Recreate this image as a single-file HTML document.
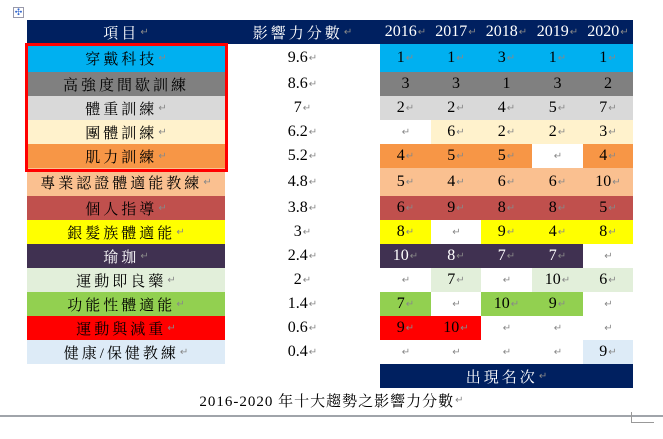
<!DOCTYPE html>
<html><head><meta charset="utf-8">
<style>
body{margin:0;width:663px;height:439px;background:#fff;position:relative;overflow:hidden;font-family:"Liberation Serif","Noto Serif CJK SC",serif;}
.c{position:absolute;display:flex;align-items:center;justify-content:center;font-size:16px;color:#000;box-sizing:border-box;}
.k{letter-spacing:3px;font-size:15px;}
.m{color:#888;font-size:10px;margin-left:1px;letter-spacing:0;}
</style></head><body>
<div style="position:absolute;left:13px;top:7px;width:9px;height:9px;border:1px solid #99a;color:#36c;font-size:9px;line-height:9px;text-align:center;">✣</div>
<div id="t"></div>
<div style="position:absolute;left:25px;top:43px;width:203px;height:129px;border:3px solid #f00;box-sizing:border-box;"></div>
<div class="c k" style="left:0;top:390px;width:663px;height:20px;letter-spacing:1px;">2016-2020 年十大趨勢之影響力分數<span class="m">↵</span></div>
<div style="position:absolute;left:0;top:415px;width:663px;height:2px;background:#a0a4aa;"></div>
<div style="position:absolute;left:631px;top:412px;width:22px;height:10px;border-left:1px solid #999;border-bottom:1px solid #999;"></div>
<script>
const items=["穿戴科技","高強度間歇訓練","體重訓練","團體訓練","肌力訓練","專業認證體適能教練","個人指導","銀髮族體適能","瑜珈","運動即良藥","功能性體適能","運動與減重","健康/保健教練"];
const scores=["9.6","8.6","7","6.2","5.2","4.8","3.8","3","2.4","2","1.4","0.6","0.4"];
const years=["2016","2017","2018","2019","2020"];
const ranks=[[1,1,3,1,1],[3,3,1,3,2],[2,2,4,5,7],[null,6,2,2,3],[4,5,5,null,4],[5,4,6,6,10],[6,9,8,8,5],[8,null,9,4,8],[10,8,7,7,null],[null,7,null,10,6],[7,null,10,9,null],[9,10,null,null,null],[null,null,null,null,9]];
const colors=["#00B0F0","#808080","#D9D9D9","#FFF2CC","#F79646","#FAC090","#C0504D","#FFFF00","#403151","#E2EFDA","#92D050","#FF0000","#DDEBF7"];
const rowTop=[44,72,96,120,144,168,196,220,244,268,292,316,340,364];
const colX=[380,431,481,532,583,633];
const t=document.getElementById('t');
function cell(x,y,w,h,bg,txt,col,name,cjk,nomark){
 const d=document.createElement('div');d.className='c'+(cjk?' k':'');
 
 
 d.style.cssText+=`left:${x}px;top:${y}px;width:${w}px;height:${h}px;background:${bg};color:${col||'#000'}`;
 d.innerHTML=txt+(nomark?'':'<span class="m">↵</span>');t.appendChild(d);}
const H=document.createElement('div');


H.style.cssText='position:absolute;left:27px;top:20px;width:606px;height:24px;background:#002060';t.appendChild(H);
cell(27,20,198,24,'transparent','項目','#fff','header-item',true);
cell(225,20,155,24,'transparent','影響力分數','#fff','header-score',true);
years.forEach((y,i)=>cell(colX[i],20,colX[i+1]-colX[i],24,'transparent',y,'#fff','header-year-'+y));
items.forEach((it,r)=>{
 const y=rowTop[r],h=rowTop[r+1]-y;
 const fc=r===8?'#fff':'#000';
 cell(27,y,198,h,colors[r],it,fc,'item-'+r,true,r===1);
 cell(225,y,155,h,'#fff',scores[r],'#000','score-'+r);
 ranks[r].forEach((v,i)=>cell(colX[i],y,colX[i+1]-colX[i],h,v==null?'#fff':colors[r],v==null?'':String(v),v==null?'#000':fc,'rank-'+r+'-'+years[i],false,r===1));
});
cell(380,364,253,24,'#002060','出現名次','#fff','footer-rank-label',true);
</script>
</body></html>
